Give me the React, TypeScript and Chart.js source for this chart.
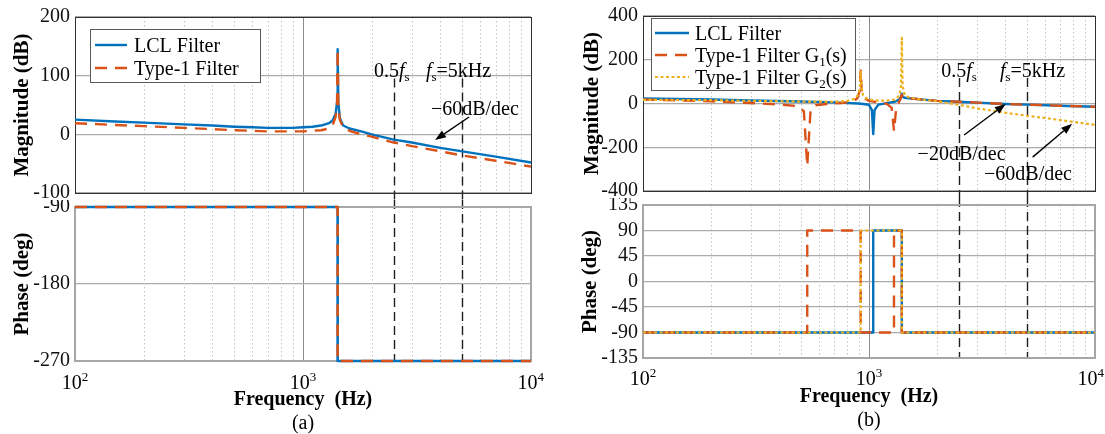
import React, { useEffect, useRef } from 'react';
import { Chart, registerables } from 'chart.js';

Chart.register(...registerables);

const SERIF = '"Liberation Serif", "Times New Roman", Times, serif';
const BLUE = '#0072BD';
const ORANGE = '#D95319';
const YELLOW = '#EDB120';

// ---------- shared frequency axis ----------
const freqMin = 100;
const freqMax = 10000;
const decadeTicks = [100, 1000, 10000];
const decadeLabels = ['10²', '10³', '10⁴'];
const minorDecades = [100, 1000];
const minorFactors = [2, 3, 4, 5, 6, 7, 8, 9];
const samplingFreqs = [2500, 5000]; // 0.5 fs, fs
const xAxisTitle = 'Frequency  (Hz)';

// ---------- panel (a) ----------
const freqA = [100, 150, 200, 300, 400, 500, 600, 700, 800, 900, 1000, 1100, 1200, 1300, 1350, 1390, 1410, 1419, 1428, 1450, 1500, 1600, 1800, 2000, 2500, 3000, 4000, 5000, 7000, 10000];
const magLclA = [25, 22, 20, 17, 15, 13, 12, 11, 11, 11, 12, 13, 15, 19, 24, 35, 55, 145, 55, 28, 15, 10, 5, 0, -9, -14, -23, -29, -38, -48];
const magType1A = [19, 16, 14, 11, 9, 7, 6, 5, 5, 5, 5, 6, 7, 10, 16, 30, 52, 145, 52, 25, 12, 6, 0, -4, -14, -20, -29, -36, -45, -55];
const phaseFreqA = [100, 1419, 1419, 10000];
const phaseLclA = [-90, -90, -270, -270];
const phaseType1A = [-90, -90, -270, -270];

// annotations (a): [frequency, dB]
const halfFsLabelA = [2047, 110];
const fsLabelA = [3460, 110];
const slopeLabelA = [3640, 45];
const slopeArrowFromA = [5350, 29.5];
const slopeArrowToA = [3795, -9.7];

// ---------- panel (b) ----------
const freqLclB = [100, 200, 300, 500, 700, 900, 1000, 1030, 1044, 1058, 1100, 1200, 1300, 1360, 1385, 1397, 1409, 1440, 1500, 2000, 2500, 3000, 4000, 5000, 7000, 10000];
const magLclB = [23, 18, 14, 9, 5, 0, -6, -30, -140, -30, -5, 2, 8, 18, 30, 45, 30, 26, 24, 12, 8, 4, -2, -5, -10, -15];
const freqG1B = [100, 200, 300, 400, 480, 515, 533, 551, 580, 650, 750, 850, 890, 910, 919, 928, 950, 1000, 1100, 1200, 1260, 1290, 1320, 1360, 1385, 1397, 1409, 1440, 1500, 2000, 2500, 3000, 4000, 5000, 7000, 10000];
const magG1B = [18, 10, 2, -4, -12, -35, -285, -35, -8, -2, 2, 8, 25, 60, 150, 60, 25, 12, 5, -2, -20, -125, -20, 8, 25, 40, 28, 26, 24, 12, 8, 4, -2, -5, -10, -15];
const freqG2B = [100, 200, 300, 500, 700, 800, 870, 900, 912, 919, 926, 940, 970, 1000, 1100, 1200, 1300, 1360, 1385, 1397, 1409, 1440, 1500, 1700, 2000, 2500, 3000, 4000, 5000, 6000, 8000, 10000];
const magG2B = [17, 15, 12, 9, 8, 12, 22, 45, 80, 150, 80, 40, 25, 18, 13, 13, 18, 35, 80, 300, 80, 38, 28, 18, 10, -6, -22, -42, -56, -66, -84, -98];

const phaseFreqLclB = [100, 1044, 1044, 1397, 1397, 10000];
const phaseLclB = [-90, -90, 90, 90, -90, -90];
const phaseFreqG1B = [100, 533, 533, 919, 919, 1290, 1290, 1397, 1397, 10000];
const phaseG1B = [-90, -90, 90, 90, -90, -90, 90, 90, -90, -90];
const phaseFreqG2B = [100, 919, 919, 1397, 1397, 10000];
const phaseG2B = [-90, -90, 90, 90, -90, -90];

// annotations (b): [frequency, dB]
const halfFsLabelB = [2089, 153];
const fsLabelB = [3794, 153];
const slope20LabelB = [1641, -226];
const slope20ArrowFromB = [2636, -144];
const slope20ArrowToB = [4026, -2];
const slope60LabelB = [3228, -318];
const slope60ArrowFromB = [5297, -245];
const slope60ArrowToB = [7925, -92];

// ---------- rich text helper ----------
const SUP: Record<string, string> = { '²': '2', '³': '3', '⁴': '4' };
const SUB: Record<string, string> = { '₁': '1', '₂': '2', 'ₛ': 's' };

function parseRich(s: string) {
  const parts: { t: string; k: string }[] = [];
  let buf = '';
  let italic = false;
  const flush = () => {
    if (buf) parts.push({ t: buf, k: italic ? 'i' : 'n' });
    buf = '';
  };
  for (const ch of s) {
    if (ch === '*') { flush(); italic = !italic; }
    else if (SUP[ch]) { flush(); parts.push({ t: SUP[ch], k: 'sup' }); }
    else if (SUB[ch]) { flush(); parts.push({ t: SUB[ch], k: 'sub' }); }
    else buf += ch;
  }
  flush();
  return parts;
}

function fontFor(k: string, size: number, weight: string) {
  const small = k === 'sub' || k === 'sup';
  const sz = small ? Math.round(size * 0.65) : size;
  return `${k === 'i' ? 'italic ' : ''}${weight} ${sz}px ${SERIF}`;
}

function measureRich(ctx: CanvasRenderingContext2D, text: string, size: number, weight = 'normal') {
  let total = 0;
  for (const p of parseRich(text)) {
    ctx.font = fontFor(p.k, size, weight);
    total += ctx.measureText(p.t).width;
  }
  return total;
}

function drawRich(ctx: CanvasRenderingContext2D, text: string, x: number, baseline: number, size: number, align: string, weight = 'normal') {
  const parts = parseRich(text);
  let total = 0;
  const widths = parts.map((p) => {
    ctx.font = fontFor(p.k, size, weight);
    const w = ctx.measureText(p.t).width;
    total += w;
    return w;
  });
  let cx = align === 'left' ? x : align === 'center' ? x - total / 2 : x - total;
  ctx.textAlign = 'left';
  ctx.textBaseline = 'alphabetic';
  parts.forEach((p, i) => {
    ctx.font = fontFor(p.k, size, weight);
    const dy = p.k === 'sub' ? size * 0.22 : p.k === 'sup' ? -size * 0.42 : 0;
    ctx.fillText(p.t, cx, baseline + dy);
    cx += widths[i];
  });
}

function drawArrow(ctx: CanvasRenderingContext2D, x0: number, y0: number, x1: number, y1: number) {
  const ang = Math.atan2(y1 - y0, x1 - x0);
  const hl = 11;
  const hw = 4;
  const bx = x1 - hl * Math.cos(ang);
  const by = y1 - hl * Math.sin(ang);
  ctx.strokeStyle = '#000';
  ctx.lineWidth = 1.4;
  ctx.setLineDash([]);
  ctx.beginPath();
  ctx.moveTo(x0, y0);
  ctx.lineTo(bx, by);
  ctx.stroke();
  ctx.fillStyle = '#000';
  ctx.beginPath();
  ctx.moveTo(x1, y1);
  ctx.lineTo(bx + hw * Math.sin(ang), by - hw * Math.cos(ang));
  ctx.lineTo(bx - hw * Math.sin(ang), by + hw * Math.cos(ang));
  ctx.closePath();
  ctx.fill();
}

// ---------- decoration plugin ----------
const decorPlugin = {
  id: 'decor',
  beforeDatasetsDraw(chart: any, _args: any, o: any) {
    const { ctx, chartArea: ca } = chart;
    const xs = chart.scales.x;
    const ys = chart.scales.y;
    ctx.save();
    ctx.strokeStyle = '#c4c4c4';
    ctx.lineWidth = 1;
    ctx.setLineDash([1.5, 2.5]);
    ctx.beginPath();
    for (const d of minorDecades) {
      for (const m of minorFactors) {
        const px = Math.round(xs.getPixelForValue(d * m)) + 0.5;
        ctx.moveTo(px, ca.top);
        ctx.lineTo(px, ca.bottom);
      }
    }
    ctx.stroke();
    if (o.marks) {
      ctx.strokeStyle = '#1e1e1e';
      ctx.lineWidth = 1.4;
      ctx.setLineDash([9, 5]);
      ctx.beginPath();
      for (const f of samplingFreqs) {
        const px = Math.round(xs.getPixelForValue(f)) + 0.5;
        const y0 = o.marks.from !== undefined ? ys.getPixelForValue(o.marks.from) : 0;
        const y1 = o.marks.toEdge ? chart.height : ca.bottom;
        ctx.moveTo(px, y0);
        ctx.lineTo(px, y1);
      }
      ctx.stroke();
    }
    // axes box
    ctx.setLineDash([]);
    ctx.strokeStyle = o.boxColor;
    ctx.lineWidth = o.boxWidth;
    const off = o.boxWidth % 2 === 1 ? 0.5 : 0;
    ctx.strokeRect(Math.round(ca.left) + off, Math.round(ca.top) + off, Math.round(ca.right - ca.left), Math.round(ca.bottom - ca.top));
    ctx.restore();
  },
  afterDatasetsDraw(chart: any, _args: any, o: any) {
    const { ctx, chartArea: ca } = chart;
    const xs = chart.scales.x;
    const ys = chart.scales.y;
    const P = (v: number[]) => [xs.getPixelForValue(v[0]), ys.getPixelForValue(v[1])];
    ctx.save();
    ctx.setLineDash([]);

    // legend
    if (o.legend) {
      const L = o.legend;
      const bx = Math.round(ca.left + L.dx);
      const by = Math.round(ca.top + L.dy);
      ctx.fillStyle = '#fff';
      ctx.fillRect(bx, by, L.w, L.h);
      ctx.strokeStyle = '#595959';
      ctx.lineWidth = 1;
      ctx.strokeRect(bx + 0.5, by + 0.5, L.w, L.h);
      chart.data.datasets.forEach((ds: any, i: number) => {
        const cy = by + L.first + i * L.row;
        ctx.strokeStyle = ds.borderColor;
        ctx.lineWidth = ds.borderWidth;
        ctx.setLineDash(ds.borderDash || []);
        ctx.beginPath();
        ctx.moveTo(bx + L.s0, cy);
        ctx.lineTo(bx + L.s1, cy);
        ctx.stroke();
        ctx.setLineDash([]);
        ctx.fillStyle = '#000';
        drawRich(ctx, ds.label, bx + L.tx, cy + 7, 20, 'left');
      });
    }

    // texts
    ctx.fillStyle = '#000';
    for (const t of o.texts || []) {
      const [px, py] = P(t.at);
      drawRich(ctx, t.text, px, py + 7, 20, 'left');
    }
    for (const a of o.arrows || []) {
      const [x0, y0] = P(a.from);
      const [x1, y1] = P(a.to);
      drawArrow(ctx, x0, y0, x1, y1);
    }

    // bottom frequency labels
    if (o.bottom) {
      ctx.fillStyle = '#000';
      decadeTicks.forEach((v, i) => {
        const w = measureRich(ctx, decadeLabels[i], 20);
        let cx = xs.getPixelForValue(v);
        cx = Math.min(cx, chart.width - w / 2 - 1);
        drawRich(ctx, decadeLabels[i], cx, ca.bottom + o.bottom.tickBase, 20, 'center');
      });
      const cx = (ca.left + ca.right) / 2;
      drawRich(ctx, xAxisTitle, cx, ca.bottom + o.bottom.titleBase, 20, 'center', 'bold');
      drawRich(ctx, o.bottom.caption, cx, ca.bottom + o.bottom.capBase, 20, 'center');
    }
    ctx.restore();
  },
};

function series(label: string, xs: number[], ys: number[], color: string, dash: number[], width = 2.4) {
  return { label, xs, ys, color, dash, width };
}

function bodeConfig(o: any) {
  return {
    type: 'scatter',
    data: {
      datasets: o.series.map((s: any, i: number) => ({
        label: s.label,
        data: s.xs.map((x: number, j: number) => ({ x, y: s.ys[j] })),
        order: -i, // later series drawn on top
        showLine: true,
        borderColor: s.color,
        backgroundColor: s.color,
        borderWidth: s.width,
        borderDash: s.dash,
        borderJoinStyle: 'round',
        pointRadius: 0,
        pointHoverRadius: 0,
        tension: 0,
        fill: false,
        clip: 4,
      })),
    },
    options: {
      animation: false,
      responsive: false,
      maintainAspectRatio: false,
      events: [],
      layout: { padding: { left: 0, right: o.padRight, top: o.padTop, bottom: o.padBottom } },
      plugins: {
        legend: { display: false },
        tooltip: { enabled: false },
        decor: o.decor,
      },
      scales: {
        x: {
          type: 'logarithmic',
          min: freqMin,
          max: freqMax,
          afterBuildTicks: (s: any) => {
            s.ticks = decadeTicks.map((v) => ({ value: v, major: true }));
          },
          ticks: { display: false },
          grid: { color: '#8c8c8c', lineWidth: 1, drawTicks: false },
          border: { display: false },
          afterFit: (s: any) => {
            s.height = 0;
          },
        },
        y: {
          type: 'linear',
          min: o.yMin,
          max: o.yMax,
          ticks: {
            stepSize: o.yStep,
            autoSkip: false,
            font: { family: SERIF, size: 20 },
            color: '#111',
            padding: 5,
          },
          grid: { color: '#ababab', lineWidth: 1.2, drawTicks: false },
          border: { display: false },
          title: {
            display: true,
            text: o.yTitle,
            color: '#000',
            font: { family: SERIF, size: 21, weight: 'bold' },
            padding: { top: o.yTitlePad, bottom: 0 },
          },
          afterFit: (s: any) => {
            s.width = o.yWidth;
            s.paddingTop = 0;
            s.paddingBottom = 0;
          },
        },
      },
    },
    plugins: [decorPlugin],
  };
}

const specs = [
  {
    left: 0, top: 0, width: 545, height: 200,
    make: () => bodeConfig({
      series: [
        series('LCL Filter', freqA, magLclA, BLUE, []),
        series('Type-1 Filter', freqA, magType1A, ORANGE, [12, 8]),
      ],
      yMin: -100, yMax: 200, yStep: 100, yTitle: 'Magnitude (dB)', yTitlePad: 10, yWidth: 75,
      padTop: 17, padBottom: 7, padRight: 14,
      decor: {
        boxColor: '#303030', boxWidth: 1,
        marks: { from: 95, toEdge: true },
        legend: { dx: 15, dy: 12, w: 170, h: 53, first: 16, row: 23, s0: 5, s1: 37, tx: 44 },
        texts: [
          { text: '0.5*f*ₛ', at: halfFsLabelA },
          { text: '*f*ₛ=5kHz', at: fsLabelA },
          { text: '−60dB/dec', at: slopeLabelA },
        ],
        arrows: [{ from: slopeArrowFromA, to: slopeArrowToA }],
      },
    }),
  },
  {
    left: 0, top: 200, width: 545, height: 234,
    make: () => bodeConfig({
      series: [
        series('LCL Filter', phaseFreqA, phaseLclA, BLUE, [], 2.6),
        series('Type-1 Filter', phaseFreqA, phaseType1A, ORANGE, [12, 8], 2.6),
      ],
      yMin: -270, yMax: -90, yStep: 90, yTitle: 'Phase (deg)', yTitlePad: 10, yWidth: 75,
      padTop: 7, padBottom: 73, padRight: 14,
      decor: {
        boxColor: '#a6a6a6', boxWidth: 2,
        marks: { toEdge: false },
        bottom: { tickBase: 28, titleBase: 44, capBase: 68, caption: '(a)' },
      },
    }),
  },
  {
    left: 545, top: 0, width: 560, height: 198,
    make: () => bodeConfig({
      series: [
        series('LCL Filter', freqLclB, magLclB, BLUE, []),
        series('Type-1 Filter G₁(s)', freqG1B, magG1B, ORANGE, [12, 8]),
        series('Type-1 Filter G₂(s)', freqG2B, magG2B, YELLOW, [3, 2.5], 2.2),
      ],
      yMin: -400, yMax: 400, yStep: 200, yTitle: 'Magnitude (dB)', yTitlePad: 35, yWidth: 98,
      padTop: 16, padBottom: 7, padRight: 10,
      decor: {
        boxColor: '#303030', boxWidth: 1,
        marks: { from: 117, toEdge: true },
        legend: { dx: 8, dy: 2, w: 204, h: 72, first: 15, row: 22, s0: 4, s1: 38, tx: 44 },
        texts: [
          { text: '0.5*f*ₛ', at: halfFsLabelB },
          { text: '*f*ₛ=5kHz', at: fsLabelB },
          { text: '−20dB/dec', at: slope20LabelB },
          { text: '−60dB/dec', at: slope60LabelB },
        ],
        arrows: [
          { from: slope20ArrowFromB, to: slope20ArrowToB },
          { from: slope60ArrowFromB, to: slope60ArrowToB },
        ],
      },
    }),
  },
  {
    left: 545, top: 198, width: 560, height: 236,
    make: () => bodeConfig({
      series: [
        series('LCL Filter', phaseFreqLclB, phaseLclB, BLUE, []),
        series('Type-1 Filter G₁(s)', phaseFreqG1B, phaseG1B, ORANGE, [12, 8]),
        series('Type-1 Filter G₂(s)', phaseFreqG2B, phaseG2B, YELLOW, [3, 2.5], 2.2),
      ],
      yMin: -135, yMax: 135, yStep: 45, yTitle: 'Phase (deg)', yTitlePad: 33, yWidth: 98,
      padTop: 7, padBottom: 76, padRight: 10,
      decor: {
        boxColor: '#a6a6a6', boxWidth: 2,
        marks: { toEdge: false },
        bottom: { tickBase: 27, titleBase: 44, capBase: 68, caption: '(b)' },
      },
    }),
  },
];

function ChartCanvas({ spec }: { spec: any }) {
  const ref = useRef<HTMLCanvasElement>(null);
  useEffect(() => {
    const chart = new Chart(ref.current as HTMLCanvasElement, spec.make());
    return () => chart.destroy();
  }, [spec]);
  return (
    <canvas
      ref={ref}
      width={spec.width}
      height={spec.height}
      style={{ position: 'absolute', left: spec.left, top: spec.top, width: spec.width, height: spec.height }}
    />
  );
}

export default function App() {
  return (
    <div style={{ position: 'absolute', left: 0, top: 0, width: 1105, height: 434, background: '#fff', overflow: 'hidden' }}>
      {specs.map((s, i) => (
        <ChartCanvas key={i} spec={s} />
      ))}
    </div>
  );
}
